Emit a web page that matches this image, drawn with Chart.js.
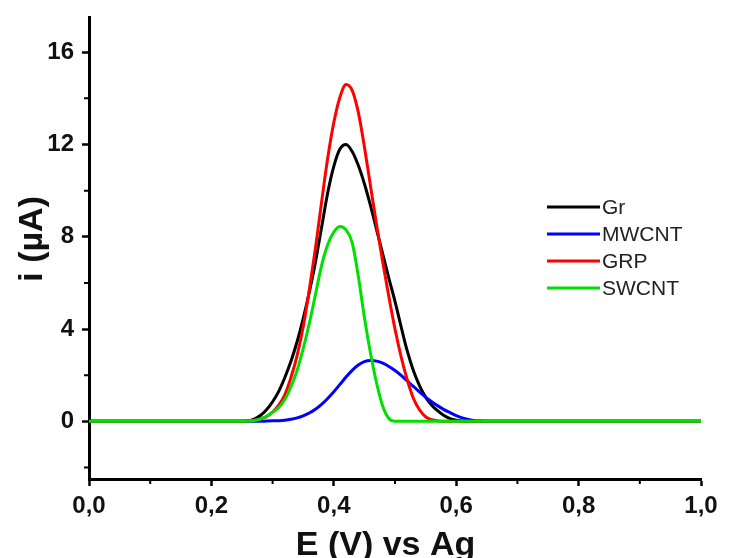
<!DOCTYPE html>
<html>
<head>
<meta charset="utf-8">
<title>i vs E</title>
<script src="https://cdn.jsdelivr.net/npm/chart.js@4.4.1/dist/chart.umd.min.js"></script>
<style>
  html, body { margin: 0; padding: 0; background: #fff; }
  #wrap { width: 742px; height: 558px; }
</style>
</head>
<body>
<div id="wrap"><canvas id="myChart"></canvas></div>
<script>
// potential (V) shared by all curves
const potential = [0.0, 0.2,
  0.25, 0.26, 0.27, 0.28, 0.29, 0.30, 0.31, 0.32, 0.33, 0.34,
  0.35, 0.36, 0.37, 0.38, 0.39, 0.40, 0.41, 0.42, 0.43, 0.44,
  0.45, 0.46, 0.47, 0.48, 0.49, 0.50, 0.51, 0.52, 0.53, 0.54,
  0.55, 0.56, 0.57, 0.58, 0.59, 0.60, 0.61, 0.62, 0.63, 0.64,
  0.65, 0.8, 1.0];

// current (µA) per electrode
const gr = [0, 0,
  0, 0.02, 0.1, 0.25, 0.5, 0.85, 1.3, 1.9, 2.6, 3.45,
  4.45, 5.6, 6.9, 8.4, 9.9, 11.05, 11.8, 12.0, 11.7, 11.1,
  10.3, 9.35, 8.3, 7.25, 6.2, 5.2, 4.1, 3.05, 2.2, 1.55,
  1.05, 0.7, 0.45, 0.25, 0.12, 0.05, 0.01, 0, 0, 0,
  0, 0, 0];
const mwcnt = [0, 0,
  0, 0, 0, 0, 0.01, 0.02, 0.03, 0.05, 0.09, 0.15,
  0.24, 0.36, 0.52, 0.73, 0.99, 1.28, 1.6, 1.92, 2.21, 2.44,
  2.59, 2.64, 2.61, 2.52, 2.38, 2.2, 1.99, 1.75, 1.51, 1.28,
  1.05, 0.85, 0.67, 0.51, 0.38, 0.25, 0.15, 0.08, 0.03, 0.01,
  0, 0, 0];
const grp = [0, 0,
  0, 0.02, 0.05, 0.1, 0.2, 0.4, 0.7, 1.15, 1.9, 2.85,
  4.1, 5.7, 7.5, 9.5, 11.4, 12.95, 14.05, 14.6, 14.35, 13.4,
  11.9, 10.2, 8.5, 6.9, 5.4, 4.0, 2.8, 1.8, 1.0, 0.5,
  0.2, 0.07, 0.02, 0, 0, 0, 0, 0, 0, 0,
  0, 0, 0];
const swcnt = [0, 0,
  0, 0.01, 0.04, 0.1, 0.22, 0.4, 0.6, 0.95, 1.5, 2.2,
  3.15, 4.25, 5.5, 6.75, 7.65, 8.2, 8.45, 8.3, 7.75, 6.3,
  4.5, 2.95, 1.65, 0.65, 0.12, 0, 0, 0, 0, 0,
  0, 0, 0, 0, 0, 0, 0, 0, 0, 0,
  0, 0, 0];

const xTicks = [0, 0.2, 0.4, 0.6, 0.8, 1.0];
const xMinor = [0.1, 0.3, 0.5, 0.7, 0.9];
const yTicks = [0, 4, 8, 12, 16];
const yMinor = [-2, 2, 6, 10, 14];

const ctx = document.getElementById('myChart');
const font = '"Liberation Sans", Arial, sans-serif';

function points(values) {
  return potential.map((e, i) => ({ x: e, y: values[i] }));
}

// short minor ticks on both axes
const minorTicks = {
  id: 'minorTicks',
  afterDraw(chart) {
    const { x, y } = chart.scales;
    const area = chart.chartArea;
    const c = chart.ctx;
    c.save();
    c.strokeStyle = '#000';
    c.lineWidth = 2;
    c.beginPath();
    xMinor.forEach(v => {
      const px = x.getPixelForValue(v);
      c.moveTo(px, area.bottom);
      c.lineTo(px, area.bottom + 5);
    });
    yMinor.forEach(v => {
      const py = y.getPixelForValue(v);
      c.moveTo(area.left, py);
      c.lineTo(area.left - 5, py);
    });
    c.stroke();
    c.restore();
  }
};

// legend sitting inside the plot, right of the peaks
const curveLegend = {
  id: 'curveLegend',
  afterDraw(chart) {
    const c = chart.ctx;
    c.save();
    c.font = '21px ' + font;
    c.textBaseline = 'middle';
    chart.data.datasets.forEach((ds, i) => {
      const y = 207 + i * 27;
      c.strokeStyle = ds.borderColor;
      c.lineWidth = 3;
      c.beginPath();
      c.moveTo(547, y);
      c.lineTo(600, y);
      c.stroke();
      c.fillStyle = '#222';
      c.fillText(ds.label, 602, y + 1);
    });
    c.restore();
  }
};

new Chart(ctx, {
  type: 'line',
  data: {
    datasets: [
      { label: 'Gr', data: points(gr), borderColor: '#000000', order: 4 },
      { label: 'MWCNT', data: points(mwcnt), borderColor: '#0000FF', order: 3 },
      { label: 'GRP', data: points(grp), borderColor: '#FF0000', order: 2 },
      { label: 'SWCNT', data: points(swcnt), borderColor: '#00E000', order: 1 }
    ]
  },
  options: {
    responsive: true,
    maintainAspectRatio: false,
    animation: false,
    layout: { padding: { left: 0, right: 41, top: 17, bottom: 0 } },
    elements: {
      point: { radius: 0 },
      line: { borderWidth: 3, cubicInterpolationMode: 'monotone', fill: false }
    },
    plugins: {
      legend: { display: false },
      tooltip: { enabled: false }
    },
    scales: {
      x: {
        type: 'linear',
        min: 0,
        max: 1.0,
        afterBuildTicks: s => { s.ticks = xTicks.map(v => ({ value: v })); },
        afterFit: s => { s.height = 79; },
        border: { display: true, color: '#000', width: 3 },
        grid: { display: true, drawOnChartArea: false, drawTicks: true, tickLength: 7, tickWidth: 2.5, tickColor: '#000' },
        ticks: {
          color: '#111',
          padding: 6,
          maxRotation: 0,
          font: { family: font, size: 24, weight: 'bold' },
          callback: v => v.toFixed(1).replace('.', ',')
        },
        title: {
          display: true,
          text: 'E (V) vs Ag  ',
          color: '#111',
          padding: { top: 0, bottom: 0 },
          font: { family: font, size: 34, weight: 'bold', lineHeight: 0.75 }
        }
      },
      y: {
        min: -2.5,
        max: 17.5,
        afterBuildTicks: s => { s.ticks = yTicks.map(v => ({ value: v })); },
        afterFit: s => { s.width = 89; },
        border: { display: true, color: '#000', width: 3 },
        grid: { display: true, drawOnChartArea: false, drawTicks: true, tickLength: 7, tickWidth: 2.5, tickColor: '#000' },
        ticks: {
          color: '#111',
          padding: 8,
          font: { family: font, size: 24, weight: 'bold', lineHeight: 0.8 },
          callback: v => v
        },
        title: {
          display: true,
          text: '  i (µA)',
          color: '#111',
          padding: { top: 18, bottom: 0 },
          font: { family: font, size: 34, weight: 'bold', lineHeight: 0.85 }
        }
      }
    }
  },
  plugins: [minorTicks, curveLegend]
});
</script>
</body>
</html>
